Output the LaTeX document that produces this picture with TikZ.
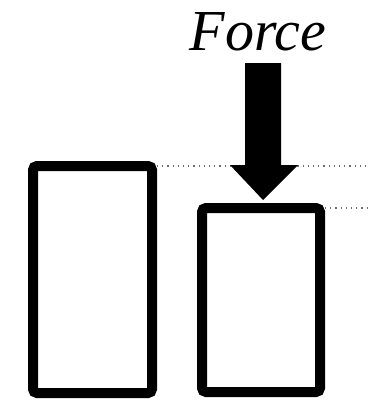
\documentclass[tikz,border=0pt]{standalone}
\usepackage{fontspec}
\setmainfont{Liberation Serif}
\usepackage{tikz}
\usetikzlibrary{positioning, calc}
\definecolor{mydark}{RGB}{0,0,0}
\definecolor{mgdot}{RGB}{110,110,110}
\tikzset{
  bar/.style={draw=mydark, line width=5pt, rounded corners=2pt, fill=white},
  level/.style={dotted, line width=0.6pt, color=mgdot},
  push/.style={fill=mydark, draw=none},
  label/.style={font=\fontsize{29}{32}\selectfont\itshape, color=mydark, anchor=base}
}
\begin{document}
\begin{tikzpicture}[x=0.5pt, y=-0.5pt]
  \useasboundingbox (0,0) rectangle (379,412);
  % Corners of the two bars
  \coordinate (lefttl) at (33,166);
  \coordinate (leftbr) at (152,393);
  \coordinate (righttl) at (202,208);
  \coordinate (rightbr) at (320,392);
  \coordinate (leftend) at (370,166);
  \coordinate (rightend) at (371,208);
  % Height levels
  \draw[level] (157,166) -- (leftend);
  \draw[level] (325,208) -- (rightend);
  % Bars
  \draw[bar] (lefttl) rectangle (leftbr);
  \draw[bar] (righttl) rectangle (rightbr);
  % Force arrow
  \fill[push] (245,63) -- (281,63) -- (281,165) -- (298,165) -- (263,200)
    -- (230,165) -- (245,165) -- cycle;
  \node[label] (force) at (258,50) {Force};
\end{tikzpicture}
\end{document}
